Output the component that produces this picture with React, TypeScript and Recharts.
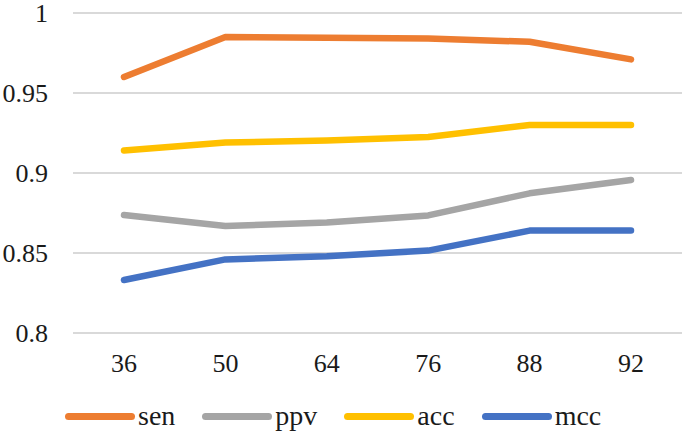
import React from "react";
import { CartesianGrid, Legend, Line, LineChart, XAxis, YAxis } from "recharts";

const SIZES = ["36", "50", "64", "76", "88", "92"];
const SEN = [0.96, 0.985, 0.9845, 0.984, 0.982, 0.971];
const PPV = [0.8737, 0.8669, 0.869, 0.8735, 0.8873, 0.8956];
const ACC = [0.914, 0.919, 0.9203, 0.9225, 0.93, 0.93];
const MCC = [0.8331, 0.846, 0.848, 0.8515, 0.864, 0.864];
const Y_TICKS = [0.8, 0.85, 0.9, 0.95, 1];

const SERIES = [
  { key: "sen", color: "#ED7D31" },
  { key: "ppv", color: "#A5A5A5" },
  { key: "acc", color: "#FFC000" },
  { key: "mcc", color: "#4472C4" },
];

const data = SIZES.map((s, i) => ({
  size: s,
  sen: SEN[i],
  ppv: PPV[i],
  acc: ACC[i],
  mcc: MCC[i],
}));

const FONT = '"Liberation Serif"';
const TEXT_COLOR = "#1a1a1a";

function XTick({ x, y, payload }: any) {
  return (
    <text x={x} y={y + 17} textAnchor="middle" fontFamily="Liberation Serif" fontSize={26} fill={TEXT_COLOR}>
      {payload.value}
    </text>
  );
}

function YTick({ x, y, payload }: any) {
  return (
    <text x={48} y={y + 9} textAnchor="end" fontFamily="Liberation Serif" fontSize={26} fill={TEXT_COLOR}>
      {String(payload.value)}
    </text>
  );
}

function LegendContent() {
  return (
    <div
      style={{
        height: 51,
        paddingTop: 20,
        paddingLeft: 65,
        boxSizing: "border-box",
        display: "flex",
        alignItems: "flex-start",
        fontFamily: FONT,
        fontSize: 28,
        color: TEXT_COLOR,
      }}
    >
      {SERIES.map((s) => (
        <div
          key={s.key}
          style={{ display: "flex", alignItems: "center", height: 26, marginRight: 27 }}
        >
          <div
            style={{
              width: 70,
              height: 7,
              borderRadius: 4,
              background: s.color,
              marginRight: 3,
            }}
          />
          <span style={{ lineHeight: "26px" }}>{s.key}</span>
        </div>
      ))}
    </div>
  );
}

export default function App() {
  return (
    <div style={{ position: "absolute", left: 0, top: 0, background: "#fff", fontFamily: FONT }}>
      <LineChart
        width={685}
        height={434}
        data={data}
        margin={{ top: 13, right: 3, bottom: 0, left: 0 }}
      >
        <CartesianGrid vertical={false} stroke="#D9D9D9" strokeWidth={2} />
        <XAxis
          dataKey="size"
          axisLine={false}
          tickLine={false}
          tick={<XTick />}
          tickSize={6}
          tickMargin={16}
          height={50}
          padding={{ left: 51, right: 51 }}
        />
        <YAxis
          domain={[0.8, 1]}
          ticks={Y_TICKS}
          axisLine={false}
          tickLine={false}
          tick={<YTick />}
          width={73}
        />
        <Legend verticalAlign="bottom" content={<LegendContent />} />
        {SERIES.map((s) => (
          <Line
            key={s.key}
            type="linear"
            dataKey={s.key}
            stroke={s.color}
            strokeWidth={6.5}
            strokeLinecap="round"
            strokeLinejoin="round"
            dot={false}
            activeDot={false}
            isAnimationActive={false}
          />
        ))}
      </LineChart>
    </div>
  );
}
